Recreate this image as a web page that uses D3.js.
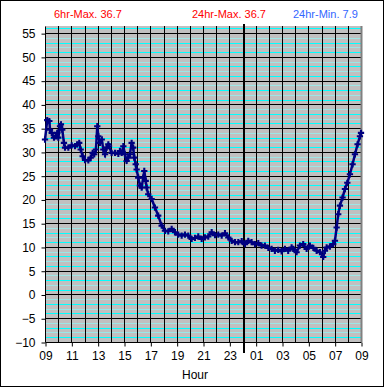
<!DOCTYPE html>
<html>
<head>
<meta charset="utf-8">
<script src="https://cdn.jsdelivr.net/npm/d3@7"></script>
<style>
  body { margin: 0; background: #fff; }
  svg text { font-family: "Liberation Sans", Arial, sans-serif; }
</style>
</head>
<body>
<svg id="chart"></svg>
<script>
// hours since 09:00, temperature
var hours = [0, 0.17, 0.33, 0.38, 0.51, 0.68, 0.84, 0.93, 1.01, 1.14, 1.21, 1.31, 1.44, 1.52, 1.77,
  2.03, 2.28, 2.45, 2.60, 2.71, 2.86, 3.04, 3.29, 3.47, 3.62, 3.74, 3.87, 3.97, 4.05, 4.18, 4.31,
  4.43, 4.56, 4.68, 4.81, 4.86, 5.06, 5.32, 5.57, 5.69, 5.82, 5.95, 6.07, 6.20, 6.32, 6.45, 6.58,
  6.70, 6.78, 6.89, 6.96, 7.08, 7.21, 7.34, 7.46, 7.54, 7.65, 7.72, 7.84, 8.10, 8.35, 8.60, 8.86,
  9.11, 9.36, 9.62, 9.87, 10.12, 10.38, 10.63, 10.88, 11.14, 11.39, 11.64, 11.90, 12.15, 12.40,
  12.66, 12.91, 13.16, 13.42, 13.67, 13.92, 14.18, 14.43, 14.68, 14.94, 15.19, 15.44, 15.69, 15.95,
  16.20, 16.45, 16.70, 16.96, 17.21, 17.46, 17.71, 17.97, 18.22, 18.47, 18.73, 18.85, 19.11, 19.36,
  19.61, 19.87, 20.12, 20.38, 20.63, 20.88, 21.13, 21.26, 21.39, 21.64, 21.89, 22.02, 22.15, 22.27,
  22.40, 22.60, 22.78, 22.96, 23.16, 23.36, 23.54, 23.74, 23.92, 24.0];
var temps = [32.6, 36.7, 36.5, 34.7, 34.0, 33.0, 33.3, 34.0, 33.0, 35.4, 35.8, 34.7, 31.9, 30.9, 30.9,
  31.4, 31.2, 31.6, 31.9, 30.5, 29.1, 28.3, 28.2, 28.8, 29.8, 29.5, 30.5, 35.4, 33.3, 31.9, 32.6,
  30.5, 29.5, 30.9, 31.6, 31.2, 29.8, 29.8, 29.6, 30.2, 29.8, 31.2, 29.5, 28.1, 28.8, 29.5, 31.9,
  30.9, 28.8, 27.4, 26.3, 24.6, 22.9, 22.5, 24.6, 26.0, 23.9, 22.5, 21.1, 20.1, 18.3, 16.6, 14.5,
  13.4, 13.3, 13.8, 13.1, 12.6, 12.4, 12.6, 12.4, 11.7, 11.9, 12.2, 11.7, 12.0, 12.2,
  13.1, 12.5, 12.6, 12.4, 12.9, 12.0, 11.3, 11.0, 11.0, 11.2, 10.6, 11.3, 11.0, 10.6,
  10.8, 10.3, 10.3, 9.8, 9.6, 9.2, 9.4, 9.1, 9.6, 9.2, 9.9, 9.6, 8.9, 10.3,
  10.6, 9.6, 10.3, 9.8, 9.2, 8.9, 7.9, 9.2, 9.9, 10.1, 10.6, 11.3, 14.1, 16.9,
  18.7, 20.4, 22.2, 23.5, 25.3, 27.4, 29.5, 31.6, 33.3, 34.0];
var xTickLabels = ["09", "11", "13", "15", "17", "19", "21", "23", "01", "03", "05", "07", "09"];
var yTicks = [-10, -5, 0, 5, 10, 15, 20, 25, 30, 35, 40, 45, 50, 55];
var titles = ["6hr-Max. 36.7", "24hr-Max. 36.7", "24hr-Min. 7.9"];

var W = 385, H = 388;
var pLeft = 45, pRight = 361, pTop = 26, pBottom = 342;

var svg = d3.select("#chart").attr("width", W).attr("height", H);

svg.append("rect").attr("x", 0.5).attr("y", 0.5).attr("width", 383).attr("height", 386)
  .attr("fill", "#fff").attr("stroke", "#000");

var x = d3.scaleLinear().domain([0, 24]).range([pLeft, pRight]);
var y = d3.scaleLinear().domain([-10, 56.5]).range([pBottom, pTop]);

svg.append("rect").attr("x", pLeft).attr("y", pTop).attr("width", pRight - pLeft).attr("height", pBottom - pTop)
  .attr("fill", "#c0c0c0");

// minor horizontal lines every 1 degree, alternating bright / pale
var minor = d3.range(-9, 57).filter(function(v) { return v % 5 != 0; });
svg.selectAll(".minor").data(minor).enter().append("line")
  .attr("x1", pLeft).attr("x2", pRight)
  .attr("y1", function(d) { return Math.round(y(d)) + 0.5; })
  .attr("y2", function(d) { return Math.round(y(d)) + 0.5; })
  .attr("stroke", function(d) { var m = ((d % 5) + 5) % 5; return (m == 1 || m == 3) ? "#00ffff" : "#9ee6e6"; });

// major horizontal lines
svg.selectAll(".major").data(yTicks.slice(1)).enter().append("line")
  .attr("x1", pLeft).attr("x2", pRight)
  .attr("y1", function(d) { return Math.round(y(d)) + 0.5; })
  .attr("y2", function(d) { return Math.round(y(d)) + 0.5; })
  .attr("stroke", "#000");

// hourly vertical lines
svg.selectAll(".vgrid").data(d3.range(1, 24)).enter().append("line")
  .attr("x1", function(d) { return Math.round(x(d)) + 0.5; })
  .attr("x2", function(d) { return Math.round(x(d)) + 0.5; })
  .attr("y1", pTop).attr("y2", pBottom)
  .attr("stroke", "#000");

// plot frame right side
svg.append("line").attr("x1", pRight + 0.5).attr("x2", pRight + 0.5).attr("y1", pTop).attr("y2", pBottom)
  .attr("stroke", "#808080").attr("stroke-width", 2);

// midnight marker
svg.append("line").attr("x1", Math.round(x(15)) + 1).attr("x2", Math.round(x(15)) + 1)
  .attr("y1", pTop - 2).attr("y2", pBottom + 11)
  .attr("stroke", "#000").attr("stroke-width", 2);

// axes
var yAxis = d3.axisLeft(y).tickValues(yTicks).tickSize(4).tickPadding(6);
var gy = svg.append("g").attr("transform", "translate(" + (pLeft + 0.5) + ",0.5)").call(yAxis);
gy.select(".domain").attr("d", "M0," + pTop + "V" + pBottom);
gy.selectAll("text").attr("font-size", 12).attr("fill", "#000").attr("font-family", null);

var xAxis = d3.axisBottom(x).tickValues(d3.range(0, 25, 2)).tickSize(4).tickPadding(5)
  .tickFormat(function(d, i) { return xTickLabels[i]; });
var gx = svg.append("g").attr("transform", "translate(0.5," + (pBottom + 0.5) + ")").call(xAxis);
gx.select(".domain").attr("d", "M" + pLeft + ",0H" + pRight);
gx.selectAll("text").attr("font-size", 12).attr("fill", "#000").attr("font-family", null);

svg.append("text").attr("x", 195).attr("y", 379).attr("text-anchor", "middle")
  .attr("font-size", 12).text("Hour");

// temperature trace
var pts = hours.map(function(h, i) { return [h, temps[i]]; });
var line = d3.line().x(function(d) { return x(d[0]); }).y(function(d) { return y(d[1]); });
svg.append("path").datum(pts).attr("d", line)
  .attr("fill", "none").attr("stroke", "#000080").attr("stroke-width", 2.5);
var cross = d3.symbol().type(d3.symbolCross).size(22);
svg.selectAll(".pt").data(pts).enter().append("path")
  .attr("d", cross)
  .attr("transform", function(d) { return "translate(" + x(d[0]) + "," + y(d[1]) + ")"; })
  .attr("fill", "#000080");

// header
svg.append("text").attr("x", 54).attr("y", 18).attr("font-size", 11).attr("fill", "#ff0000").text(titles[0]);
svg.append("text").attr("x", 192).attr("y", 18).attr("font-size", 11).attr("fill", "#ff0000").text(titles[1]);
svg.append("text").attr("x", 293).attr("y", 18).attr("font-size", 11).attr("fill", "#3366ff").text(titles[2]);
</script>
</body>
</html>
